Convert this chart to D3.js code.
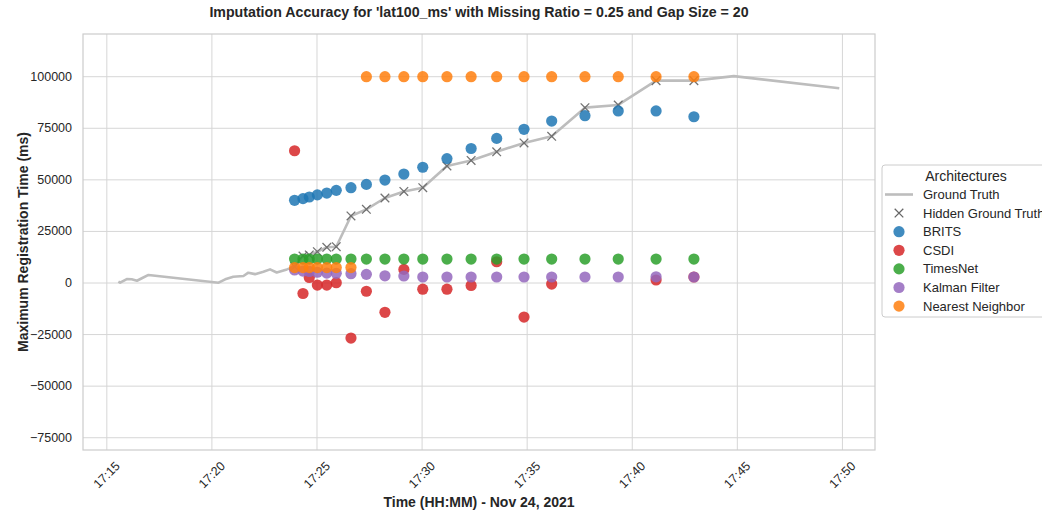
<!doctype html>
<html>
    <head>
        <meta charset="utf-8">
        <title>Imputation Accuracy lat100_ms</title>
        <!-- Load d3.js -->
        <script src="https://d3js.org/d3.v7.min.js"></script>
        <style>
            body { margin: 0; background: #fff; }
            text { font-family: "Liberation Sans", Arial, sans-serif; fill: #262626; }
        </style>
    </head>
    <body>
        <!-- Create a div where the graph will take place -->
        <div id="my_dataviz"></div>

        <script>

            // ground truth series (observed + hidden part), times on Nov 24, 2021
            var gtTimes = ["17:15:33", "17:15:38", "17:15:57", "17:16:11", "17:16:26", "17:16:40", "17:16:59",
                "17:20:19", "17:20:38", "17:21:01", "17:21:30", "17:21:44", "17:22:03", "17:22:27", "17:22:46",
                "17:23:05", "17:23:34",
                "17:23:56", "17:24:20", "17:24:38", "17:25:01", "17:25:28", "17:25:55", "17:26:37", "17:27:21",
                "17:28:14", "17:29:08", "17:30:02", "17:31:11", "17:32:20", "17:33:33", "17:34:51", "17:36:10",
                "17:37:45", "17:39:20", "17:41:08", "17:42:56",
                "17:44:50", "17:49:51"];
            var gtValues = [630, 150, 1900, 1800, 1100, 2300, 3900,
                150, 1800, 3000, 3400, 5000, 4300, 5500, 6600,
                5100, 6600,
                7900, 13100, 13600, 15200, 17300, 17600, 32500, 35700,
                41200, 44400, 46200, 56700, 59400, 63600, 67900, 71100,
                85000, 86300, 98100, 98100,
                100300, 94400];

            // times of the hidden (imputed) points
            var gapTimes = ["17:23:56", "17:24:20", "17:24:38", "17:25:01", "17:25:28", "17:25:55", "17:26:37", "17:27:21",
                "17:28:14", "17:29:08", "17:30:02", "17:31:11", "17:32:20", "17:33:33", "17:34:51", "17:36:10",
                "17:37:45", "17:39:20", "17:41:08", "17:42:56"];
            var hiddenTruth = [7900, 13100, 13600, 15200, 17300, 17600, 32500, 35700, 41200, 44400,
                46200, 56700, 59400, 63600, 67900, 71100, 85000, 86300, 98100, 98100];
            var brits = [40100, 40900, 41700, 42700, 43600, 44900, 46200, 47800, 49900, 52800,
                56100, 60300, 65200, 70100, 74500, 78500, 81100, 83400, 83400, 80600];
            // two CSDI points are not visible in the picture
            var csdi = [64100, -5100, 2700, -1000, -1000, 150, -26700, -4000, -14200, 6600,
                -3000, -3000, -1200, 10300, -16500, -500, null, null, 1450, 2900];
            var timesnet = [11600, 11600, 11600, 11600, 11600, 11600, 11600, 11600, 11600, 11600,
                11600, 11600, 11600, 11600, 11600, 11600, 11600, 11600, 11600, 11600];
            var kalman = [6300, 5800, 5600, 5200, 4800, 4700, 4500, 4200, 3500, 3400,
                2900, 2900, 2900, 2900, 2900, 2900, 2900, 2900, 3000, 2900];
            var nearest = [7500, 7500, 7500, 7500, 7500, 7500, 7500, 100000, 100000, 100000,
                100000, 100000, 100000, 100000, 100000, 100000, 100000, 100000, 100000, 100000];

            var yTicks = [-75000, -50000, -25000, 0, 25000, 50000, 75000, 100000];

            var models = [
                {name: "BRITS", values: brits, color: "#1f77b4"},
                {name: "CSDI", values: csdi, color: "#d62728"},
                {name: "TimesNet", values: timesnet, color: "#2ca02c"},
                {name: "Kalman Filter", values: kalman, color: "#9467bd"},
                {name: "Nearest Neighbor", values: nearest, color: "#ff7f0e"}
            ];

            var parseTime = d3.timeParse("%Y-%m-%d %H:%M:%S");
            function toDate(s) { return parseTime("2021-11-24 " + s); }

            // set the dimensions and margins of the graph
            var margin = {top: 34, right: 167, bottom: 64, left: 83},
                width = 1042 - margin.left - margin.right,
                height = 514 - margin.top - margin.bottom;

            var svg = d3.select("#my_dataviz")
            .append("svg")
                .attr("width", 1042)
                .attr("height", 514);

            var g = svg.append("g")
                .attr("transform", "translate(" + margin.left + "," + margin.top + ")");

            // scales
            var x = d3.scaleTime()
                .domain([toDate("17:13:52"), toDate("17:51:33")])
                .range([0, width]);
            var y = d3.scaleLinear()
                .domain([-80950, 120700])
                .range([height, 0]);

            // grid lines
            var xTicks = d3.timeMinute.every(5).range(toDate("17:15:00"), toDate("17:50:01"));
            g.append("g")
                .selectAll("line")
                .data(xTicks)
                .enter()
                .append("line")
                    .attr("x1", function(d) { return x(d); })
                    .attr("x2", function(d) { return x(d); })
                    .attr("y1", 0)
                    .attr("y2", height)
                    .style("stroke", "#d6d6d6")
                    .style("stroke-width", 1);
            g.append("g")
                .selectAll("line")
                .data(yTicks)
                .enter()
                .append("line")
                    .attr("x1", 0)
                    .attr("x2", width)
                    .attr("y1", function(d) { return y(d); })
                    .attr("y2", function(d) { return y(d); })
                    .style("stroke", "#d6d6d6")
                    .style("stroke-width", 1);

            // frame
            g.append("rect")
                .attr("x", 0)
                .attr("y", 0)
                .attr("width", width)
                .attr("height", height)
                .style("fill", "none")
                .style("stroke", "#cccccc")
                .style("stroke-width", 1.2);

            // X axis tick labels, rotated 45 degrees
            var fmtTime = d3.timeFormat("%H:%M");
            g.append("g")
                .selectAll("text")
                .data(xTicks)
                .enter()
                .append("text")
                    .attr("transform", function(d) { return "translate(" + x(d) + "," + (height + 25) + ") rotate(-45)"; })
                    .attr("text-anchor", "middle")
                    .attr("dominant-baseline", "central")
                    .style("font-size", "12.5px")
                    .text(function(d) { return fmtTime(d); });

            // Y axis tick labels (d3 v7 uses the unicode minus)
            var fmtY = d3.format("d");
            g.append("g")
                .selectAll("text")
                .data(yTicks)
                .enter()
                .append("text")
                    .attr("x", -11)
                    .attr("y", function(d) { return y(d); })
                    .attr("text-anchor", "end")
                    .attr("dominant-baseline", "central")
                    .style("font-size", "12.5px")
                    .text(function(d) { return fmtY(d); });

            // ground truth line
            var gtData = gtTimes.map(function(t, i) { return {date: toDate(t), value: gtValues[i]}; });
            g.append("path")
                .datum(gtData)
                .attr("d", d3.line()
                    .x(function(d) { return x(d.date); })
                    .y(function(d) { return y(d.value); }))
                .style("fill", "none")
                .style("stroke", "#bdbdbd")
                .style("stroke-width", 2.6)
                .style("stroke-linejoin", "round");

            // hidden ground truth markers (x)
            var crossSize = 4.3;
            function crossPath(cx, cy) {
                return "M" + (cx - crossSize) + "," + (cy - crossSize) + "L" + (cx + crossSize) + "," + (cy + crossSize) +
                    "M" + (cx - crossSize) + "," + (cy + crossSize) + "L" + (cx + crossSize) + "," + (cy - crossSize);
            }
            g.append("g")
                .selectAll("path")
                .data(hiddenTruth)
                .enter()
                .append("path")
                    .attr("d", function(d, i) { return crossPath(x(toDate(gapTimes[i])), y(d)); })
                    .style("stroke", "#666666")
                    .style("stroke-width", 1.3)
                    .style("opacity", 0.9);

            // imputed values of each model
            models.forEach(function(m) {
                var pts = m.values
                    .map(function(v, i) { return {date: toDate(gapTimes[i]), value: v}; })
                    .filter(function(d) { return d.value !== null; });
                g.append("g")
                    .selectAll("circle")
                    .data(pts)
                    .enter()
                    .append("circle")
                        .attr("cx", function(d) { return x(d.date); })
                        .attr("cy", function(d) { return y(d.value); })
                        .attr("r", 5.6)
                        .style("fill", m.color)
                        .style("opacity", 0.85);
            });

            // title
            svg.append("text")
                .attr("x", margin.left + width / 2)
                .attr("y", 17)
                .attr("text-anchor", "middle")
                .style("font-size", "14.2px")
                .style("font-weight", "bold")
                .text("Imputation Accuracy for 'lat100_ms' with Missing Ratio = 0.25 and Gap Size = 20");

            // axis labels
            svg.append("text")
                .attr("x", margin.left + width / 2)
                .attr("y", 507)
                .attr("text-anchor", "middle")
                .style("font-size", "14px")
                .style("font-weight", "bold")
                .text("Time (HH:MM) - Nov 24, 2021");
            svg.append("text")
                .attr("transform", "translate(28," + (margin.top + height / 2) + ") rotate(-90)")
                .attr("text-anchor", "middle")
                .style("font-size", "14px")
                .style("font-weight", "bold")
                .text("Maximum Registration Time (ms)");

            // legend (cut at the right edge, as in the picture)
            var legend = svg.append("g")
                .attr("transform", "translate(882,165)");
            legend.append("rect")
                .attr("width", 200)
                .attr("height", 152)
                .attr("rx", 3)
                .style("fill", "#fff")
                .style("stroke", "#cccccc")
                .style("stroke-width", 1);
            legend.append("text")
                .attr("x", 84)
                .attr("y", 11)
                .attr("text-anchor", "middle")
                .attr("dominant-baseline", "central")
                .style("font-size", "14px")
                .text("Architectures");

            var legendItems = ["Ground Truth", "Hidden Ground Truth"].concat(models.map(function(m) { return m.name; }));
            var rowY = function(i) { return 29.5 + i * 18.6; };
            legend.selectAll(".lab")
                .data(legendItems)
                .enter()
                .append("text")
                    .attr("class", "lab")
                    .attr("x", 41)
                    .attr("y", function(d, i) { return rowY(i); })
                    .attr("dominant-baseline", "central")
                    .style("font-size", "13px")
                    .text(function(d) { return d; });
            legend.append("line")
                .attr("x1", 3).attr("x2", 31)
                .attr("y1", rowY(0)).attr("y2", rowY(0))
                .style("stroke", "#bdbdbd")
                .style("stroke-width", 2.6);
            legend.append("path")
                .attr("d", crossPath(17, rowY(1)))
                .style("stroke", "#666666")
                .style("stroke-width", 1.3);
            legend.selectAll("circle")
                .data(models)
                .enter()
                .append("circle")
                    .attr("cx", 17)
                    .attr("cy", function(d, i) { return rowY(i + 2); })
                    .attr("r", 5.6)
                    .style("fill", function(d) { return d.color; })
                    .style("opacity", 0.85);

        </script>
    </body>
</html>
